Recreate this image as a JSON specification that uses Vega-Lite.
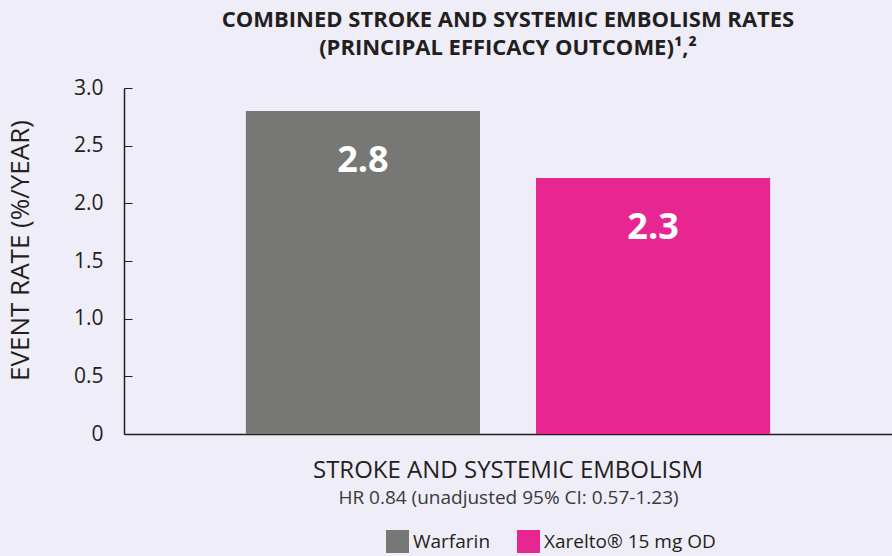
{
  "$schema": "https://vega.github.io/schema/vega-lite/v6.json",
  "width": 768,
  "height": 346,
  "autosize": {"type": "none"},
  "padding": {"left": 124, "top": 88, "right": 0, "bottom": 122},
  "background": "#efedf7",
  "title": {
    "text": ["COMBINED STROKE AND SYSTEMIC EMBOLISM RATES", "(PRINCIPAL EFFICACY OUTCOME)¹,²"],
    "font": "Open Sans",
    "fontSize": 22,
    "fontWeight": "bold",
    "color": "#231f20",
    "anchor": "middle",
    "lineHeight": 28,
    "offset": 17,
    "limit": 0
  },
  "data": {
    "values": [
      {"outcome": "STROKE AND SYSTEMIC EMBOLISM", "treatment": "Warfarin", "rate": 2.8, "label": "2.8"},
      {"outcome": "STROKE AND SYSTEMIC EMBOLISM", "treatment": "Xarelto® 15 mg OD", "rate": 2.22, "label": "2.3"}
    ]
  },
  "encoding": {
    "x": {
      "field": "outcome",
      "type": "nominal",
      "scale": {"paddingInner": 0, "paddingOuter": 0},
      "axis": {
        "title": "HR 0.84 (unadjusted 95% CI: 0.57-1.23)",
        "titleFont": "Open Sans",
        "titleFontSize": 19,
        "titleFontWeight": "normal",
        "titleColor": "#3a3a3a",
        "titlePadding": 6,
        "labelAngle": 0,
        "labelFont": "Open Sans",
        "labelFontSize": 24,
        "labelLimit": 0,
        "labelColor": "#231f20",
        "labelPadding": 24,
        "ticks": false,
        "domainColor": "#231f20",
        "domainWidth": 1.5
      }
    },
    "xOffset": {
      "field": "treatment",
      "type": "nominal",
      "scale": {"paddingInner": 0.193, "paddingOuter": 0.42}
    },
    "y": {
      "field": "rate",
      "type": "quantitative",
      "scale": {"domain": [0, 3]},
      "axis": {
        "title": "EVENT RATE (%/YEAR)",
        "titleFont": "Open Sans",
        "titleFontSize": 26,
        "titleFontWeight": "normal",
        "titleColor": "#231f20",
        "titlePadding": 40,
        "titleY": 162,
        "values": [0, 0.5, 1, 1.5, 2, 2.5, 3],
        "labelExpr": "datum.value == 0 ? '0' : format(datum.value, '.1f')",
        "labelFont": "Open Sans",
        "labelFontSize": 21,
        "labelColor": "#231f20",
        "labelPadding": 29,
        "tickSize": -8,
        "tickColor": "#231f20",
        "domainColor": "#231f20",
        "domainWidth": 1.5,
        "grid": false
      }
    }
  },
  "layer": [
    {
      "mark": {"type": "bar"},
      "encoding": {
        "color": {
          "field": "treatment",
          "type": "nominal",
          "scale": {"domain": ["Warfarin", "Xarelto® 15 mg OD"], "range": ["#777775", "#e82691"]},
          "legend": {
            "title": null,
            "orient": "none",
            "direction": "horizontal",
            "legendX": 262,
            "legendY": 442,
            "symbolType": "square",
            "symbolSize": 529,
            "symbolStrokeWidth": 0,
            "symbolOpacity": 1,
            "labelFont": "Open Sans",
            "labelFontSize": 19,
            "labelLimit": 0,
            "labelColor": "#231f20",
            "labelOffset": 4,
            "columnPadding": 26
          }
        }
      }
    },
    {
      "mark": {"type": "text", "color": "white", "font": "Open Sans", "fontWeight": "bold", "fontSize": 36, "baseline": "middle", "dy": 50},
      "encoding": {"text": {"field": "label"}}
    }
  ],
  "config": {"view": {"stroke": null}}
}
